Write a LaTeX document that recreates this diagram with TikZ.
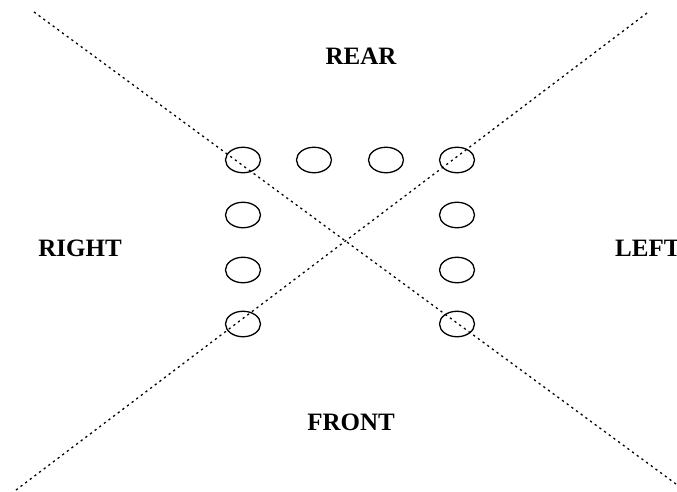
\documentclass[tikz,border=0pt]{standalone}
\usepackage{fontspec}
\setmainfont{Liberation Serif}
\usetikzlibrary{shapes.geometric}

\begin{document}
\begin{tikzpicture}[x=1pt,y=1pt]
            \tikzstyle{every node}+=[inner sep=0pt]
            \tikzstyle{seat}=[draw=black, ellipse, line width=1.3pt, minimum width=35, minimum height=25.5]
            \tikzstyle{side}=[font=\fontsize{25}{30}\selectfont\bfseries]
            \tikzstyle{diag}=[black, line width=1.3pt, dash pattern=on 2.2pt off 3.6pt]
            \useasboundingbox (0,0) rectangle (677,-491);
            \clip (0,0) rectangle (677,-491);
            % corner ends of the two diagonals
            \coordinate (tl) at (34,-12);
            \coordinate (br) at (676,-484);
            \coordinate (bl) at (16,-490);
            \coordinate (tr) at (647,-13);
            \draw [diag] (tl) -- (br);
            \draw [diag] (bl) -- (tr);
            % seats: back row, then the two side columns
            \node [seat] (s1) at (243,-160) {};
            \node [seat] (s2) at (314,-160) {};
            \node [seat] (s3) at (386,-160) {};
            \node [seat] (s4) at (457,-160) {};
            \node [seat] (l2) at (243,-215) {};
            \node [seat] (l3) at (243,-270) {};
            \node [seat] (l4) at (243,-324) {};
            \node [seat] (r2) at (457,-215) {};
            \node [seat] (r3) at (457,-270) {};
            \node [seat] (r4) at (457,-324) {};
            % labels
            \node [side] (rear) at (361,-56) {REAR};
            \node [side] (front) at (351,-422) {FRONT};
            \node [side] (right) at (80,-248) {RIGHT};
            \node [side, anchor=west] (left) at (615,-248) {LEFT};
\end{tikzpicture}
\end{document}
